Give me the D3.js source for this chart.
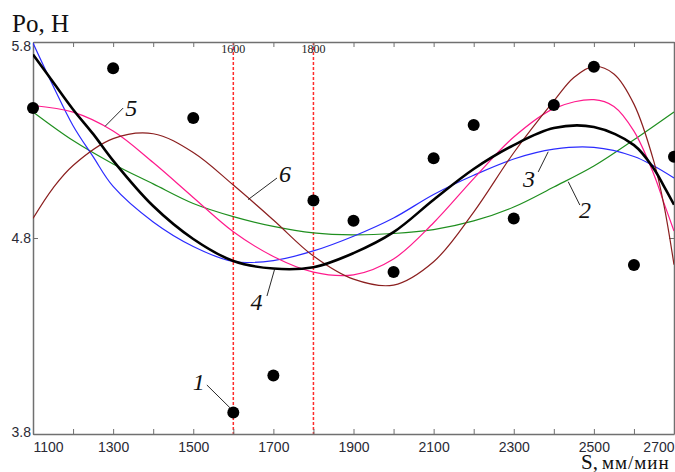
<!DOCTYPE html>
<html>
<head>
<meta charset="utf-8">
<script src="https://cdn.jsdelivr.net/npm/d3@7"></script>
<style>
  html, body { margin: 0; padding: 0; background: #fff; }
  svg { display: block; }
  .tick text { font-family: "Liberation Sans", Arial, sans-serif; font-size: 14px; fill: #2a2a35; }
</style>
</head>
<body>
<svg id="chart"></svg>
<script>
// measured points (curve 1)
var speeds = [1100, 1300, 1500, 1600, 1700, 1800, 1900, 2000, 2100, 2200, 2300, 2400, 2500, 2600, 2700];
var forces = [5.463, 5.666, 5.412, 3.910, 4.098, 4.991, 4.888, 4.627, 5.207, 5.377, 4.900, 5.479, 5.674, 4.662, 5.215];

// approximating curves 2..6 as [S, P0]
var curve2 = [[1100,5.443],[1200,5.297],[1300,5.178],[1400,5.076],[1500,4.976],[1600,4.909],[1700,4.859],[1800,4.826],[1900,4.816],[2000,4.823],[2100,4.843],[2200,4.887],[2300,4.958],[2400,5.060],[2500,5.167],[2600,5.301],[2700,5.443]];
var curve3 = [[1100,5.795],[1150,5.577],[1200,5.373],[1250,5.215],[1300,5.063],[1400,4.882],[1500,4.757],[1600,4.680],[1700,4.685],[1800,4.734],[1900,4.809],[2000,4.902],[2100,5.022],[2200,5.120],[2300,5.203],[2400,5.253],[2500,5.262],[2600,5.216],[2650,5.167],[2700,5.106]];
var curve4 = [[1100,5.736],[1150,5.596],[1200,5.456],[1250,5.331],[1300,5.195],[1400,4.963],[1500,4.795],[1600,4.683],[1700,4.644],[1800,4.651],[1900,4.723],[2000,4.830],[2100,4.995],[2200,5.152],[2300,5.274],[2400,5.361],[2500,5.366],[2600,5.274],[2650,5.152],[2675,5.063],[2700,4.970]];
var curve5 = [[1100,5.476],[1200,5.442],[1300,5.346],[1400,5.185],[1500,5.007],[1600,4.832],[1700,4.706],[1800,4.626],[1900,4.612],[2000,4.693],[2100,4.878],[2200,5.103],[2300,5.315],[2400,5.460],[2500,5.506],[2550,5.471],[2600,5.345],[2650,5.123],[2675,4.978],[2700,4.836]];
var curve6 = [[1100,4.900],[1150,5.055],[1200,5.170],[1300,5.307],[1400,5.332],[1500,5.236],[1600,5.070],[1700,4.892],[1800,4.708],[1900,4.590],[2000,4.560],[2100,4.679],[2200,4.932],[2300,5.235],[2400,5.499],[2450,5.619],[2500,5.676],[2550,5.637],[2600,5.483],[2650,5.188],[2675,4.966],[2700,4.664]];

var xTicks = d3.range(1100, 2701, 100);
var xLabels = [1100, 1300, 1500, 1700, 1900, 2100, 2300, 2500, 2700];
var yTicks = [3.8, 4.8, 5.8];
var markers = [1600, 1800];

// curve number labels: text spot and leader line, in data units
var notes = [
  { t: "1", at: [1514, 4.024], from: [1534, 4.050], to: [1592, 3.933] },
  { t: "2", at: [2478, 4.902], from: [2465, 4.968], to: [2436, 5.087] },
  { t: "3", at: [2338, 5.060], from: [2361, 5.137], to: [2386, 5.240] },
  { t: "4", at: [1658, 4.433], from: [1684, 4.504], to: [1704, 4.647] },
  { t: "5", at: [1345, 5.422], from: [1325, 5.463], to: [1280, 5.370] },
  { t: "6", at: [1729, 5.086], from: [1709, 5.106], to: [1637, 4.996] }
];

var W = 675, H = 472;
var plotL = 33, plotR = 674, plotT = 42, plotB = 434;

var svg = d3.select("#chart").attr("width", W).attr("height", H);

var x = d3.scaleLinear().domain([1100, 2700]).range([plotL, plotR]);
var y = d3.scaleLinear().domain([3.8, 5.8]).range([plotB, plotT]);

svg.append("defs").append("clipPath")
  .attr("id", "plot-clip")
  .append("rect")
    .attr("x", plotL).attr("y", plotT)
    .attr("width", plotR - plotL).attr("height", plotB - plotT);

// dashed marker lines
svg.append("g").selectAll("line")
  .data(markers)
  .join("line")
    .attr("x1", d => x(d)).attr("x2", d => x(d))
    .attr("y1", plotT).attr("y2", plotB)
    .attr("stroke", "#ff2a2a")
    .attr("stroke-width", 1.5)
    .attr("stroke-dasharray", "3,2");

svg.append("g").selectAll("text")
  .data(markers)
  .join("text")
    .attr("x", d => x(d))
    .attr("y", plotT + 11)
    .attr("text-anchor", "middle")
    .attr("font-family", "'Liberation Serif', 'Times New Roman', serif")
    .attr("font-size", 12)
    .attr("fill", "#222")
    .text(d => d);

// axes (box)
var axisColor = "#707070";

var xBottom = svg.append("g")
  .attr("transform", "translate(0," + plotB + ")")
  .style("color", axisColor)
  .call(d3.axisBottom(x).tickValues(xTicks).tickSize(-5).tickSizeOuter(0).tickPadding(8)
    .tickFormat(d => xLabels.indexOf(d) >= 0 ? d : ""));
xBottom.selectAll(".tick text")
  .attr("text-anchor", d => d == 1100 ? "start" : (d == 2700 ? "end" : "middle"));

svg.append("g")
  .attr("transform", "translate(0," + plotT + ")")
  .style("color", axisColor)
  .call(d3.axisTop(x).tickValues(xTicks).tickSize(-5).tickSizeOuter(0).tickFormat(""));

var yLeft = svg.append("g")
  .attr("transform", "translate(" + plotL + ",0)")
  .style("color", axisColor)
  .call(d3.axisLeft(y).tickValues(yTicks).tickSize(-5).tickSizeOuter(0).tickPadding(2)
    .tickFormat(d3.format(".1f")));
yLeft.selectAll(".tick text")
  .attr("dy", d => d == 5.8 ? "0.6em" : (d == 3.8 ? "0.15em" : "0.35em"));

svg.append("g")
  .attr("transform", "translate(" + plotR + ",0)")
  .style("color", axisColor)
  .call(d3.axisRight(y).tickValues([4.8]).tickSize(-5).tickSizeOuter(0).tickFormat(""));

svg.selectAll(".domain").attr("stroke-width", 1.5);

// curves
var line = d3.line()
  .x(d => x(d[0]))
  .y(d => y(d[1]))
  .curve(d3.curveCatmullRom.alpha(0.5));

var curves = [
  { data: curve2, color: "#1f8f1f", w: 1.2 },
  { data: curve3, color: "#2b2bff", w: 1.2 },
  { data: curve5, color: "#ff1a8c", w: 1.2 },
  { data: curve6, color: "#8b1f1f", w: 1.2 },
  { data: curve4, color: "#000000", w: 2.6 }
];

svg.append("g")
  .attr("clip-path", "url(#plot-clip)")
  .selectAll("path")
  .data(curves)
  .join("path")
    .attr("d", d => line(d.data))
    .attr("fill", "none")
    .attr("stroke", d => d.color)
    .attr("stroke-width", d => d.w);

// measured points
svg.append("g").selectAll("circle")
  .data(speeds)
  .join("circle")
    .attr("cx", d => x(d))
    .attr("cy", (d, i) => y(forces[i]))
    .attr("r", 6)
    .attr("fill", "#000");

// curve numbers
var noteG = svg.append("g");
noteG.selectAll("line")
  .data(notes)
  .join("line")
    .attr("x1", d => x(d.from[0])).attr("y1", d => y(d.from[1]))
    .attr("x2", d => x(d.to[0])).attr("y2", d => y(d.to[1]))
    .attr("stroke", "#111")
    .attr("stroke-width", 0.9);
noteG.selectAll("text")
  .data(notes)
  .join("text")
    .attr("x", d => x(d.at[0]))
    .attr("y", d => y(d.at[1]))
    .attr("text-anchor", "middle")
    .attr("font-family", "'Liberation Serif', 'Times New Roman', serif")
    .attr("font-style", "italic")
    .attr("font-size", 24)
    .attr("fill", "#111")
    .text(d => d.t);

// axis titles
svg.append("text")
  .attr("x", 12)
  .attr("y", 32)
  .attr("font-family", "'Liberation Serif', 'Times New Roman', serif")
  .attr("font-size", 25)
  .attr("fill", "#111")
  .text("Po, H");

var xTitle = svg.append("text")
  .attr("x", 581)
  .attr("y", 469)
  .attr("font-family", "'Liberation Serif', 'Times New Roman', serif")
  .attr("fill", "#111");
xTitle.append("tspan").attr("font-size", 21).text("S,");
xTitle.append("tspan").attr("font-size", 19).attr("dx", 4).attr("letter-spacing", 1).text("мм/мин");
</script>
</body>
</html>
